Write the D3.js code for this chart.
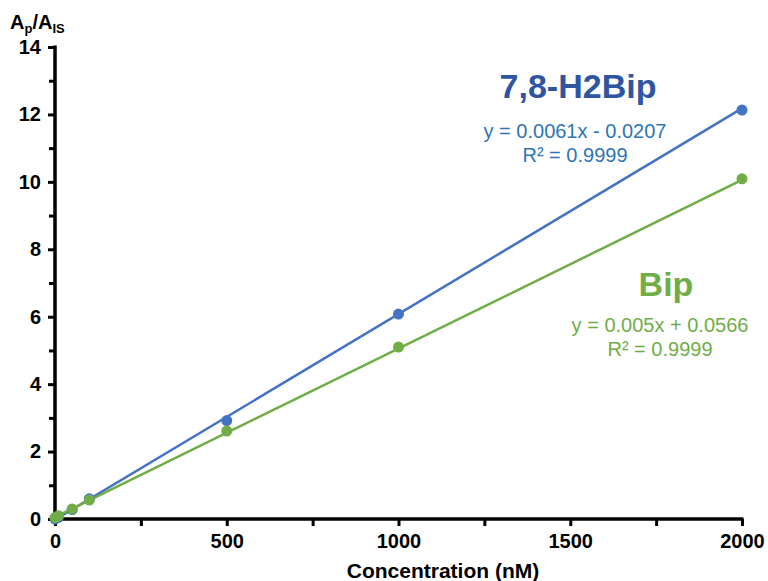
<!DOCTYPE html>
<html>
<head>
<meta charset="utf-8">
<script src="https://cdn.jsdelivr.net/npm/d3@7/dist/d3.min.js"></script>
<style>
  html, body { margin: 0; padding: 0; background: #fff; }
  svg { display: block; font-family: "Liberation Sans", Arial, sans-serif; }
</style>
</head>
<body>
<svg id="chart" width="768" height="581"></svg>
<script>
// Calibration data: concentration (nM) vs peak area ratio Ap/AIS
const concentrations = [0, 10, 50, 100, 500, 1000, 2000];
const h2bipRatios   = [0.0, 0.05, 0.28, 0.60, 2.92, 6.08, 12.13];
const bipRatios     = [0.04, 0.10, 0.30, 0.56, 2.61, 5.10, 10.09];

// Linear fits (slope, intercept) as stated in the equations
const h2bipFit = { slope: 0.0061, intercept: -0.0207 };
const bipFit   = { slope: 0.005,  intercept: 0.0566 };

const xTicks = [0, 500, 1000, 1500, 2000];
const xMinorTicks = [250, 750, 1250, 1750];
const yTicks = [0, 2, 4, 6, 8, 10, 12, 14];
const yMinorTicks = [1, 3, 5, 7, 9, 11, 13];

const blue = "#4472C4", green = "#70AD47";

const svg = d3.select("#chart");
const x = d3.scaleLinear().domain([0, 2000]).range([55, 742]);
const y = d3.scaleLinear().domain([0, 14]).range([519, 47]);

// Axes
const xAxis = svg.append("g").attr("transform", `translate(0,${y(0)})`)
  .call(d3.axisBottom(x).tickValues(xTicks).tickSize(7).tickPadding(8).tickFormat(d3.format("d")));
const xMinor = svg.append("g").attr("transform", `translate(0,${y(0)})`)
  .call(d3.axisBottom(x).tickValues(xMinorTicks).tickSize(7).tickFormat(""));
const yAxis = svg.append("g").attr("transform", `translate(${x(0)},0)`)
  .call(d3.axisLeft(y).tickValues(yTicks).tickSize(7).tickPadding(7));
const yMinor = svg.append("g").attr("transform", `translate(${x(0)},0)`)
  .call(d3.axisLeft(y).tickValues(yMinorTicks).tickSize(6).tickFormat(""));

[xAxis, xMinor, yAxis, yMinor].forEach(g => {
  g.select(".domain").remove();
  g.selectAll(".tick line").attr("stroke", "#000").attr("stroke-width", 3);
  g.selectAll(".tick text").attr("fill", "#000").attr("font-size", 20)
    .attr("font-weight", "bold").attr("font-family", "Liberation Sans, Arial, sans-serif");
});
// Axis lines
svg.append("line").attr("x1", x(0) - 1.5).attr("x2", x(2000) + 1.5)
  .attr("y1", y(0)).attr("y2", y(0)).attr("stroke", "#000").attr("stroke-width", 3.5);
svg.append("line").attr("x1", x(0)).attr("x2", x(0))
  .attr("y1", y(14) - 1.5).attr("y2", y(0) + 1.5).attr("stroke", "#000").attr("stroke-width", 3.5);

// Trendlines and data points
const series = [
  { values: h2bipRatios, fit: h2bipFit, color: blue },
  { values: bipRatios, fit: bipFit, color: green }
];
series.forEach(s => {
  const ends = [0, 2000];
  svg.append("line")
    .attr("x1", x(ends[0])).attr("y1", y(s.fit.slope * ends[0] + s.fit.intercept))
    .attr("x2", x(ends[1])).attr("y2", y(s.fit.slope * ends[1] + s.fit.intercept))
    .attr("stroke", s.color).attr("stroke-width", 2.5);
});
series.forEach(s => {
  svg.append("g").selectAll("circle")
    .data(concentrations.map((c, i) => [c, s.values[i]]))
    .join("circle")
    .attr("cx", d => x(d[0])).attr("cy", d => y(d[1]))
    .attr("r", 5.5).attr("fill", s.color);
});

// Axis titles
const yTitle = svg.append("text").attr("x", 10).attr("y", 29)
  .attr("font-size", 20).attr("font-weight", "bold").attr("fill", "#000");
yTitle.append("tspan").text("A");
yTitle.append("tspan").attr("font-size", 13).attr("dy", 4).text("p");
yTitle.append("tspan").attr("dy", -4).text("/A");
yTitle.append("tspan").attr("font-size", 13).attr("dy", 4).text("IS");

svg.append("text").attr("x", 443).attr("y", 578).attr("text-anchor", "middle")
  .attr("font-size", 21).attr("font-weight", "bold").attr("fill", "#000")
  .text("Concentration (nM)");

// Series annotations
svg.append("text").attr("x", 578).attr("y", 98).attr("text-anchor", "middle")
  .attr("font-size", 34).attr("font-weight", "bold").attr("fill", "#2F55A0").text("7,8-H2Bip");
svg.append("text").attr("x", 575).attr("y", 138).attr("text-anchor", "middle")
  .attr("font-size", 20).attr("fill", "#2E75B6").text("y = 0.0061x - 0.0207");
svg.append("text").attr("x", 575).attr("y", 162).attr("text-anchor", "middle")
  .attr("font-size", 20).attr("fill", "#2E75B6").text("R² = 0.9999");

svg.append("text").attr("x", 666).attr("y", 296).attr("text-anchor", "middle")
  .attr("font-size", 34).attr("font-weight", "bold").attr("fill", green).text("Bip");
svg.append("text").attr("x", 660).attr("y", 332).attr("text-anchor", "middle")
  .attr("font-size", 20).attr("fill", green).text("y = 0.005x + 0.0566");
svg.append("text").attr("x", 660).attr("y", 356).attr("text-anchor", "middle")
  .attr("font-size", 20).attr("fill", green).text("R² = 0.9999");
</script>
</body>
</html>
